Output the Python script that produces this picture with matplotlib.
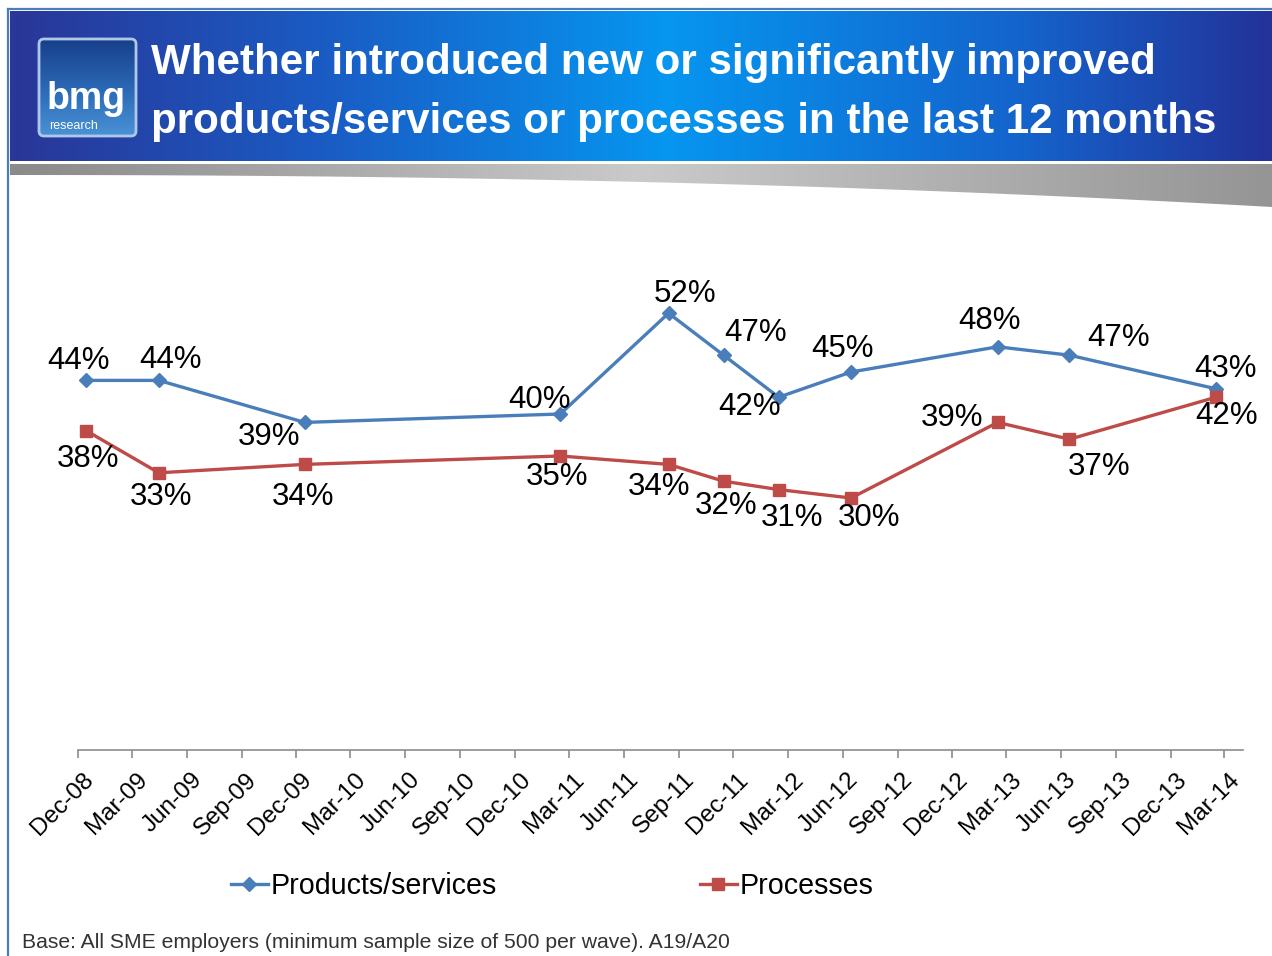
import matplotlib
matplotlib.use('Agg')
import matplotlib.pyplot as plt
import matplotlib.dates as mdates
import matplotlib.transforms as mtransforms
from matplotlib.colors import LinearSegmentedColormap
from matplotlib.patches import Polygon, FancyBboxPatch
from matplotlib.lines import Line2D
import numpy as np
import pandas as pd

# Survey waves and shares (%)
waves = pd.to_datetime([
    '2008-12-15', '2009-04-15', '2009-12-15', '2011-02-15', '2011-08-15',
    '2011-11-15', '2012-02-15', '2012-06-15', '2013-02-15', '2013-06-15',
    '2014-02-15',
])
products = [44, 44, 39, 40, 52, 47, 42, 45, 48, 47, 43]
processes = [38, 33, 34, 35, 34, 32, 31, 30, 39, 37, 42]

title_lines = [
    'Whether introduced new or significantly improved',
    'products/services or processes in the last 12 months',
]
base_note = 'Base: All SME employers (minimum sample size of 500 per wave). A19/A20'

# label offsets in pixels (dx, dy), dy positive = down
prod_off = [(-8, -19), (12, -20), (-36, 15), (-21, -14), (16, -19), (32, -22),
            (-29, 10), (-9, -23), (-8, -26), (49, -17), (9, -20)]
proc_off = [(2, 28), (2, 24), (-2, 33), (-3, 21), (-10, 23), (2, 25),
            (13, 28), (18, 20), (-46, -4), (30, 28), (10, 19)]

BLUE = '#4a7ebb'
RED = '#be4b48'

plt.rcParams['font.family'] = ['Liberation Sans', 'DejaVu Sans']

W, H = 1272, 956
fig = plt.figure(figsize=(W / 100, H / 100), dpi=100)

# background layer in pixel coordinates
bg = fig.add_axes([0, 0, 1, 1], zorder=0)
bg.set_xlim(0, W)
bg.set_ylim(H, 0)
bg.axis('off')

# header banner with horizontal gradient
banner_cmap = LinearSegmentedColormap.from_list(
    'banner', [(0.0, '#2a3698'), (0.25, '#1a5cc4'), (0.52, '#0696f0'),
               (0.8, '#1464cc'), (1.0, '#23339a')])
grad = np.linspace(0, 1, 512).reshape(1, -1)
bg.imshow(grad, cmap=banner_cmap, aspect='auto', extent=(10, W, 161, 11), zorder=1)

# grey swoosh under the banner, widening to the right
xs = np.linspace(10, W, 80)
bottom = 175 + 32 * ((xs - 10) / (W - 10)) ** 2.2
verts = np.column_stack([np.r_[xs, xs[::-1]], np.r_[np.full_like(xs, 164), bottom[::-1]]])
swoosh = Polygon(verts, closed=True, facecolor='none', edgecolor='none')
bg.add_patch(swoosh)
grey_cmap = LinearSegmentedColormap.from_list(
    'grey', [(0.0, '#8a8a8a'), (0.5, '#cacaca'), (1.0, '#959595')])
im = bg.imshow(grad, cmap=grey_cmap, aspect='auto', extent=(10, W, 210, 163), zorder=1)
im.set_clip_path(swoosh)

# slide frame
bg.plot([8, 8], [9, H], color=BLUE, lw=1.6, zorder=3)
bg.plot([8, W], [9, 9], color=BLUE, lw=1.6, zorder=3)

# logo box
logo = FancyBboxPatch((39, 39), 97, 97, boxstyle='round,pad=0,rounding_size=5',
                      facecolor='none', edgecolor='#b0c8e8', lw=2, zorder=4)
bg.add_patch(logo)
logo_cmap = LinearSegmentedColormap.from_list('logo', ['#173f8a', '#2a67b4', '#4a92d6'])
lim = bg.imshow(np.linspace(0, 1, 256).reshape(-1, 1), cmap=logo_cmap, aspect='auto',
                extent=(39, 136, 136, 39), zorder=3)
lim.set_clip_path(logo)
bg.text(86, 109, 'bmg', color='white', fontsize=27, fontweight='bold',
        ha='center', va='baseline', zorder=5)
bg.text(74, 126, 'research', color='white', fontsize=9, ha='center', va='center', zorder=5)

# title
for i, line in enumerate(title_lines):
    bg.text(151, 63 + 59 * i, line, color='white', fontsize=30.3, fontweight='bold',
            ha='left', va='center', zorder=5)

# footnote
bg.text(22, 943, base_note, color='#333333', fontsize=15.2, ha='left', va='center', zorder=5)

# chart
ax = fig.add_axes([78 / W, 1 - 750 / H, 1165 / W, 504 / H], zorder=2)
ax.patch.set_alpha(0)
ax.plot(waves, products, color=BLUE, lw=2.4, marker='D', ms=7, label='Products/services')
ax.plot(waves, processes, color=RED, lw=2.4, marker='s', ms=8, label='Processes')

ax.set_xlim(pd.Timestamp('2008-12-01'), pd.Timestamp('2014-04-01'))
ax.set_ylim(0, 60)

for x, v, (dx, dy) in zip(waves, products, prod_off):
    ax.annotate(f'{v}%', (x, v), xytext=(dx * 0.72, -dy * 0.72), textcoords='offset points',
                ha='center', va='center', fontsize=22.5, color='black')
for x, v, (dx, dy) in zip(waves, processes, proc_off):
    ax.annotate(f'{v}%', (x, v), xytext=(dx * 0.72, -dy * 0.72), textcoords='offset points',
                ha='center', va='center', fontsize=22.5, color='black')

for side in ['top', 'right', 'left']:
    ax.spines[side].set_visible(False)
ax.spines['bottom'].set_color('#8c8c8c')
ax.spines['bottom'].set_linewidth(1.2)
ax.set_yticks([])
ax.xaxis.set_major_locator(mdates.MonthLocator(bymonth=[3, 6, 9, 12]))
ax.xaxis.set_major_formatter(mdates.DateFormatter('%b-%y'))
ax.tick_params(axis='x', direction='out', length=6, width=1.2, color='#8c8c8c',
               labelsize=17.5, pad=13)
shift = mtransforms.ScaledTranslation(0.12, 0, fig.dpi_scale_trans)
for lab in ax.get_xticklabels():
    lab.set_rotation(45)
    lab.set_ha('right')
    lab.set_va('center')
    lab.set_rotation_mode('anchor')
    lab.set_transform(lab.get_transform() + shift)

handles = [
    Line2D([], [], color=BLUE, lw=2.4, marker='D', ms=7),
    Line2D([], [], color=RED, lw=2.4, marker='s', ms=8),
]
fig.legend(handles, ['Products/services', 'Processes'], loc='center',
           bbox_to_anchor=(552 / W, 1 - 886 / H), ncol=2, frameon=False,
           fontsize=20.6, handlelength=1.3, handletextpad=0.08, columnspacing=7.1)

fig.savefig('out.png', dpi=100)
